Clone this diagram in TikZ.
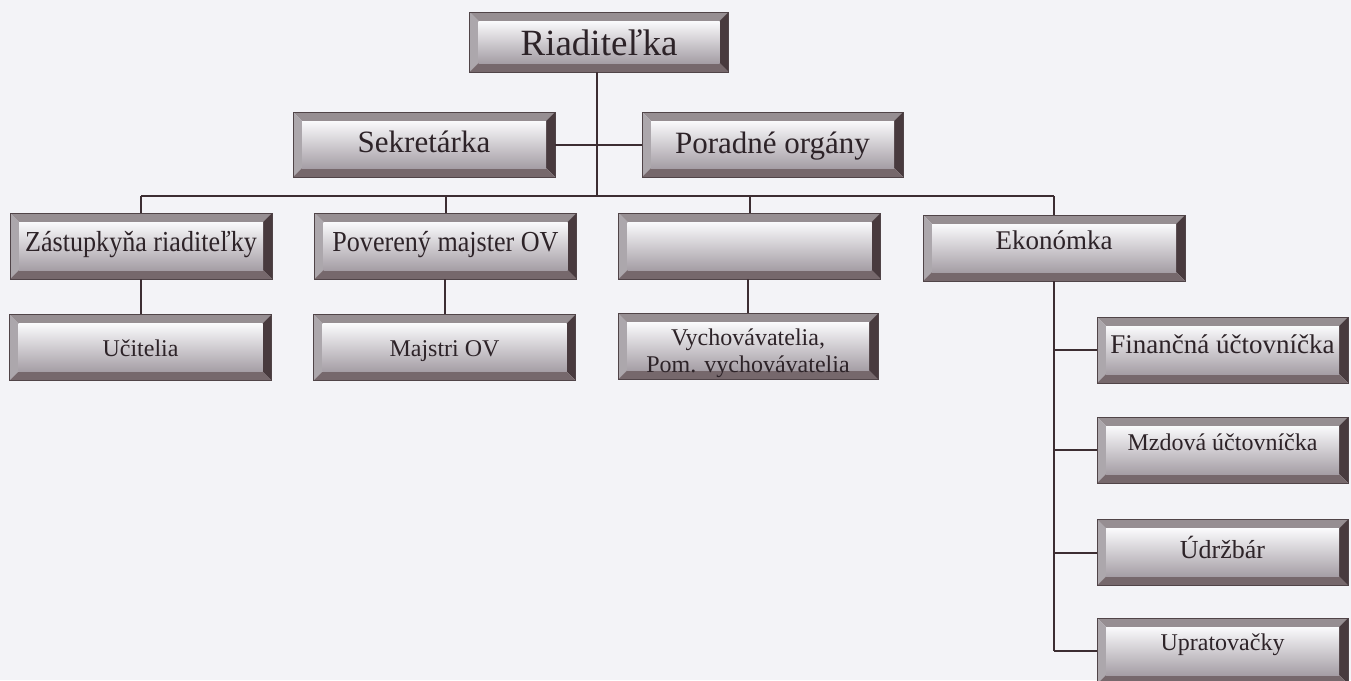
\documentclass[tikz,border=0pt]{standalone}
\usepackage{fontspec}
\setmainfont{Liberation Serif}
\definecolor{bg}{RGB}{243,243,247}
\definecolor{ink}{RGB}{45,35,40}
\definecolor{ln}{RGB}{60,45,50}
\definecolor{bvtop}{RGB}{150,142,146}
\definecolor{bvleft}{RGB}{172,167,172}
\definecolor{bvright}{RGB}{72,58,62}
\definecolor{bvbot}{RGB}{118,104,108}
\definecolor{frame}{RGB}{80,68,72}
\definecolor{facetop}{RGB}{250,250,252}
\definecolor{facemid}{RGB}{236,235,240}
\definecolor{facebot}{RGB}{165,158,165}
\newlength\bw \setlength\bw{9pt}
\newcommand\fsz[1]{\fontsize{#1}{#1}\selectfont}
\newcommand\sq[1]{\scalebox{0.9}[1]{#1}}
% place text so that its baseline lies #1 below the box centre
\newcommand\bl[2]{\raisebox{-#1pt}[0pt][0pt]{#2}}
\tikzset{
  bevbox/.style={rectangle, inner sep=0pt, draw=frame, line width=0.8pt, text=ink,
    minimum width=262pt, minimum height=66pt, align=center,
    path picture={
      \path (path picture bounding box.north west) coordinate (pNW)
            (path picture bounding box.north east) coordinate (pNE)
            (path picture bounding box.south west) coordinate (pSW)
            (path picture bounding box.south east) coordinate (pSE);
      \fill[bvtop] (pNW) -- (pNE) -- ([xshift=-\bw,yshift=-\bw]pNE) -- ([xshift=\bw,yshift=-\bw]pNW) -- cycle;
      \fill[bvleft] (pNW) -- (pSW) -- ([xshift=\bw,yshift=\bw]pSW) -- ([xshift=\bw,yshift=-\bw]pNW) -- cycle;
      \fill[bvright] (pNE) -- (pSE) -- ([xshift=-\bw,yshift=\bw]pSE) -- ([xshift=-\bw,yshift=-\bw]pNE) -- cycle;
      \fill[bvbot] (pSW) -- (pSE) -- ([xshift=-\bw,yshift=\bw]pSE) -- ([xshift=\bw,yshift=\bw]pSW) -- cycle;
      \shade[top color=facetop, middle color=facemid, bottom color=facebot]
        ([xshift=\bw,yshift=-\bw]pNW) rectangle ([xshift=-\bw,yshift=\bw]pSE);
    }},
  conn/.style={draw=ln, line width=2pt},
}
\begin{document}
\begin{tikzpicture}[x=1pt,y=-1pt]
\useasboundingbox (0,0) rectangle (1351,680);
\fill[bg] (0,0) rectangle (1351,680);
\clip (0,0) rectangle (1351,680);

\coordinate (busL) at (141,196);
\coordinate (busR) at (1054,196);
\coordinate (top) at (597,196);

% level 0/1
\node[bevbox, minimum width=259pt, minimum height=60pt, font=\fsz{37}] (R) at (599,42) {\bl{13}{Riaditeľka}};
\node[bevbox, minimum height=65pt, font=\fsz{31}] (S) at (424,144.5) {\bl{8}{Sekretárka}};
\node[bevbox, minimum width=261pt, minimum height=65pt, font=\fsz{31}] (P) at (772.5,144.5) {\bl{9}{Poradné orgány}};

% level 2
\node[bevbox, font=\fsz{29}] (Z) at (141,246) {\bl{5}{\sq{Zástupkyňa riaditeľky}}};
\node[bevbox, font=\fsz{29}] (PV) at (445.5,246) {\bl{5}{\sq{Poverený majster OV}}};
\node[bevbox] (E3) at (749.5,246) {};
\node[bevbox, font=\fsz{27}] (Ek) at (1054,248) {\bl{1}{Ekonómka}};

% level 3
\node[bevbox, font=\fsz{24}] (U) at (140.5,347.5) {\bl{9}{Učitelia}};
\node[bevbox, font=\fsz{24}] (M) at (444.5,347.5) {\bl{9}{Majstri OV}};
\node[bevbox, minimum width=260pt, font=\fontsize{24}{27}\selectfont] (V) at (748,346.5) {\bl{25.5}{\begin{tabular}[b]{@{}c@{}}Vychovávatelia,\\Pom. vychovávatelia\end{tabular}}};

% right column
\node[bevbox, minimum width=251pt, font=\fsz{27}] (F) at (1222.5,350) {\bl{3}{Finančná účtovníčka}};
\node[bevbox, minimum width=251pt, font=\fsz{24}] (Mz) at (1222.5,450) {\bl{0}{Mzdová účtovníčka}};
\node[bevbox, minimum width=251pt, font=\fsz{26}] (Ud) at (1222.5,552.5) {\bl{5.5}{Údržbár}};
\node[bevbox, minimum width=251pt, font=\fsz{24}] (Up) at (1222.5,651) {\raisebox{1pt}[0pt][0pt]{Upratovačky}};

\draw[conn] (R.south -| top) -- (top);
\draw[conn] (S.east) -- (P.west);
\draw[conn] (busL) -- (busR);
\draw[conn] (busL) -- (Z.north);
\draw[conn] (PV.north |- busL) -- (PV.north);
\draw[conn] (E3.north |- busL) -- (E3.north);
\draw[conn] (busR) -- (Ek.north);
\draw[conn] (Z.south) -- (Z.south |- U.north);
\draw[conn] (PV.south -| M.north) -- (M.north);
\draw[conn] (E3.south -| V.north) -- (V.north);
\draw[conn] (Ek.south) -- (Ek.south |- Up.west);
\draw[conn] (Ek.south |- F.west) -- (F.west);
\draw[conn] (Ek.south |- Mz.west) -- (Mz.west);
\draw[conn] (Ek.south |- Ud.west) -- (Ud.west);
\draw[conn] (Ek.south |- Up.west) -- (Up.west);
\end{tikzpicture}
\end{document}
